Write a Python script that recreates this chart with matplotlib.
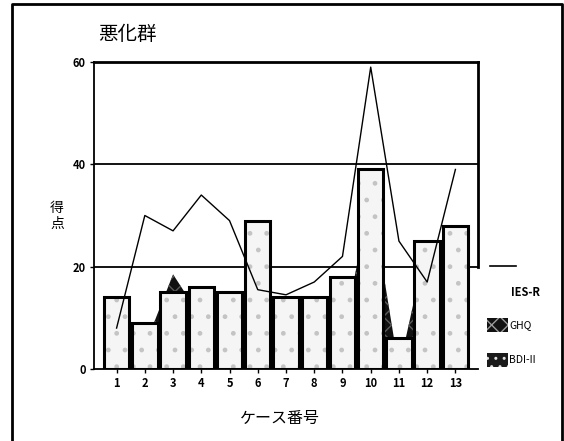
import matplotlib
matplotlib.use("Agg")
import matplotlib.pyplot as plt
from matplotlib.lines import Line2D
from matplotlib.patches import Rectangle
import numpy as np

plt.rcParams['font.family'] = ['Noto Sans CJK JP', 'DejaVu Sans']

# scores per case
cases = list(range(1, 14))
bdi = [14, 9, 15, 16, 15, 29, 14, 14, 18, 39, 6, 25, 28]
ghq = [8, 4.5, 18.5, 10, 12, 14, 13, 14, 6, 34, 0, 25, 20]
ies = [8, 30, 27, 34, 29, 15.5, 14.5, 17, 22, 59, 25, 17, 39]
yticks = [0, 20, 40, 60]

fig = plt.figure(figsize=(5.64, 4.41), dpi=100)
ax = fig.add_axes([94/564, 1-369/441, (478-94)/564, (369-62)/441])

x = np.array(cases)

# GHQ as a dark area behind the columns
ax.fill_between(x, 0, ghq, facecolor='#111111', edgecolor='#5a5a5a',
                hatch='xx', linewidth=0, zorder=1)

# BDI-II columns: light stipple, then heavy outline
ax.bar(x, bdi, width=0.9, color='#f5f5f5', edgecolor='#c4c4c4',
       hatch='.', linewidth=0, zorder=2)
ax.bar(x, bdi, width=0.9, fill=False, edgecolor='black',
       linewidth=2.2, zorder=3)

# IES-R line
ax.plot(x, ies, color='black', linewidth=1.0, zorder=4)

for g in [20, 40]:
    ax.axhline(g, color='black', linewidth=1.3, zorder=0.5)

ax.set_xlim(0.2, 13.8)
ax.set_ylim(0, 60)
ax.set_xticks(cases)
ax.set_xticklabels([str(c) for c in cases], fontsize=8, fontweight='bold')
ax.set_yticks(yticks)
ax.set_yticklabels([str(t) for t in yticks], fontsize=8, fontweight='bold')
ax.tick_params(axis='both', direction='out', length=3, width=1, pad=3)

ax.spines['right'].set_visible(False)
ax.spines['top'].set_linewidth(2)
ax.spines['left'].set_linewidth(1.3)
ax.spines['bottom'].set_linewidth(1.3)
# right border only down to the 20 line
ax.plot([1, 1], [20, 60], color='black', linewidth=2,
        transform=ax.get_yaxis_transform(), clip_on=False, zorder=5)

# titles
fig.text(127/564, 1-35/441, '悪化群', fontsize=14, ha='center', va='center')
fig.text(280/564, 1-418/441, 'ケース番号', fontsize=11.5, ha='center', va='center')
fig.text(57/564, 1-216/441, '得\n点', fontsize=10, ha='center', va='center',
         linespacing=1.1)

# legend drawn by hand on the right
fig.add_artist(Line2D([490/564, 516/564], [1-266/441, 1-266/441],
                      color='black', linewidth=1.2))
fig.text(525/564, 1-293/441, 'IES-R', fontsize=8, fontweight='bold',
         ha='center', va='center')
fig.add_artist(Rectangle((487/564, 1-332/441), 21/564, 14/441,
                         facecolor='#111111', edgecolor='#9a9a9a',
                         hatch='xx', linewidth=0, transform=fig.transFigure))
fig.text(509/564, 1-325/441, 'GHQ', fontsize=7.5, ha='left', va='center')
fig.add_artist(Rectangle((487/564, 1-367/441), 21/564, 14/441,
                         facecolor='#1a1a1a', edgecolor='#e0e0e0',
                         hatch='..', linewidth=0, transform=fig.transFigure))
fig.text(509/564, 1-360/441, 'BDI-II', fontsize=7.5, ha='left', va='center')

# outer frame (open at the bottom)
fx = [12/564, 12/564, 562/564, 562/564]
fy = [0, 1-4/441, 1-4/441, 0]
fig.add_artist(Line2D(fx, fy, color='black', linewidth=2))

fig.savefig('out.png', dpi=100)
